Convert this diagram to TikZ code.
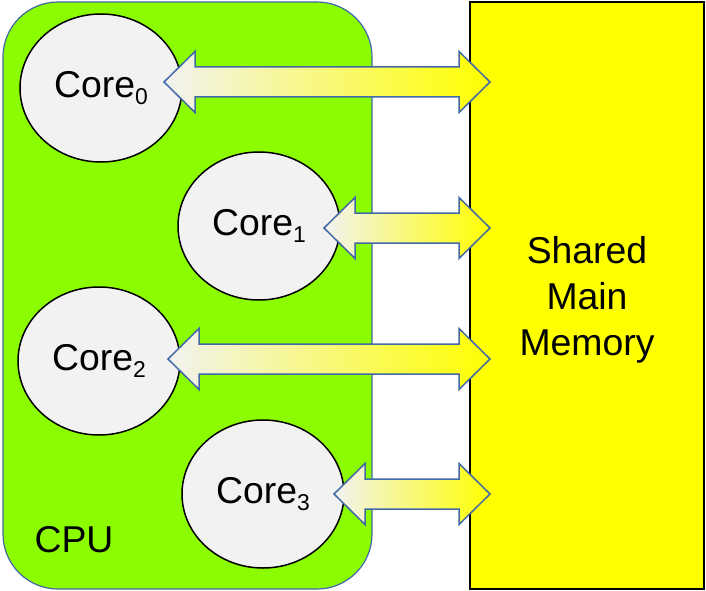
\documentclass[tikz,border=0pt]{standalone}
\usepackage{fontspec}
\setmainfont{Liberation Sans}
\usetikzlibrary{shapes.geometric,calc}
\definecolor{cpugreen}{RGB}{140,252,0}
\definecolor{cpuedge}{RGB}{65,105,165}
\definecolor{coregray}{RGB}{242,242,242}
\definecolor{memyellow}{RGB}{255,255,0}
\definecolor{arrowedge}{RGB}{65,105,165}
\newcommand\corelabel[1]{Core\raisebox{-0.2em}{\fontsize{23}{23}\selectfont #1}}
\newcommand\dblarrow[2]{%
  \shadedraw[arrowstyle] let \p1=(#1), \p2=(#2) in
    (\x1,\y1) -- ({\x1+31bp},{\y1+30.5bp}) -- ({\x1+31bp},{\y1+15bp})
    -- ({\x2-31bp},{\y1+15bp}) -- ({\x2-31bp},{\y1+30.5bp}) -- (\x2,\y1)
    -- ({\x2-31bp},{\y1-30.5bp}) -- ({\x2-31bp},{\y1-15bp})
    -- ({\x1+31bp},{\y1-15bp}) -- ({\x1+31bp},{\y1-30.5bp}) -- cycle;}
\begin{document}
\begin{tikzpicture}[x=1bp,y=-1bp,
  bigtext/.style={font=\fontsize{37.5}{46.5}\selectfont},
  cpubox/.style={draw=cpuedge, line width=1.2bp, fill=cpugreen, rounded corners=55bp, minimum width=369bp, minimum height=587bp, inner sep=0},
  corenode/.style={ellipse, draw=black, line width=1.5bp, fill=coregray, minimum width=162bp, minimum height=148bp, inner sep=0, bigtext},
  membox/.style={draw=black, line width=1.8bp, fill=memyellow, minimum width=234bp, minimum height=587bp, inner sep=0},
  arrowstyle/.style={draw=arrowedge, line width=1.5bp, line join=miter, left color=coregray, right color=memyellow}]
\useasboundingbox (0,0) rectangle (706,591);
\node[cpubox] (cpu) at (187.5,295.5) {};
\node[bigtext] (cpulabel) at (74,540) {CPU};
\node[corenode] (c0) at (101,88) {\corelabel{0}};
\node[corenode] (c1) at (259,226) {\corelabel{1}};
\node[corenode] (c2) at (99,361) {\corelabel{2}};
\node[corenode] (c3) at (263,494) {\corelabel{3}};
\node[membox] (mem) at (587,295.5) {};
\node[bigtext, align=center] (memlabel) at (587,300) {Shared\\Main\\Memory};
\coordinate (a0l) at (164,82);  \coordinate (a0r) at (490,82);
\coordinate (a1l) at (324,228); \coordinate (a1r) at (490,228);
\coordinate (a2l) at (168,359); \coordinate (a2r) at (490,359);
\coordinate (a3l) at (334,494); \coordinate (a3r) at (490,494);
\dblarrow{a0l}{a0r}
\dblarrow{a1l}{a1r}
\dblarrow{a2l}{a2r}
\dblarrow{a3l}{a3r}
\end{tikzpicture}
\end{document}
